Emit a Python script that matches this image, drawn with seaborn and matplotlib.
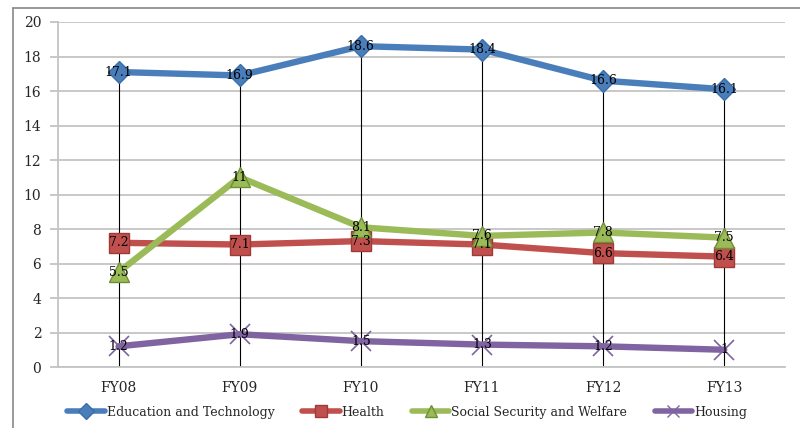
import matplotlib
matplotlib.use("Agg")
import matplotlib.pyplot as plt
from matplotlib.lines import Line2D
import seaborn as sns
import pandas as pd

years = ["FY08", "FY09", "FY10", "FY11", "FY12", "FY13"]
education = [17.1, 16.9, 18.6, 18.4, 16.6, 16.1]
health = [7.2, 7.1, 7.3, 7.1, 6.6, 6.4]
welfare = [5.5, 11, 8.1, 7.6, 7.8, 7.5]
housing = [1.2, 1.9, 1.5, 1.3, 1.2, 1.0]
y_ticks = [0, 2, 4, 6, 8, 10, 12, 14, 16, 18, 20]

series = [
    ("Education and Technology", education, "#4A7EBB", "D", 11, "#3A6EAB"),
    ("Health", health, "#C0504D", "s", 14, "#A03A38"),
    ("Social Security and Welfare", welfare, "#9BBB59", "^", 15, "#6F8F35"),
    ("Housing", housing, "#8064A2", "x", 15, "#8064A2"),
]

SERIF = ["DejaVu Serif", "Liberation Serif"]

sns.set_theme(style="white")
plt.rcParams["font.family"] = SERIF

fig = plt.figure(figsize=(8.0, 4.28), dpi=100)
ax = fig.add_axes([0.0725, 0.1425, 0.9085, 0.8061])

# drop lines from the highest series down to the axis
tops = [max(vals) for vals in zip(education, health, welfare, housing)]
ax.vlines(range(len(years)), 0, tops, color="black", lw=0.8, zorder=2)

handles = []
for name, vals, color, marker, ms, edge in series:
    df = pd.DataFrame({"year": years, "value": vals})
    is_x = marker == "x"
    sns.lineplot(data=df, x="year", y="value", ax=ax, color=color, lw=4.6,
                 marker=marker, markersize=ms,
                 markeredgecolor=color if is_x else edge,
                 markeredgewidth=1.2 if is_x else 1.0,
                 zorder=3, legend=False)
    for i, v in enumerate(vals):
        ax.text(i, v, f"{v:g}", ha="center", va="center", fontsize=9,
                color="black", zorder=5)
    handles.append(Line2D([], [], color=color, lw=4.0, marker=marker,
                          markersize=8, markeredgecolor=color if is_x else edge,
                          markeredgewidth=1.0))

ax.set_xlim(-0.5, len(years) - 0.5)
ax.set_ylim(0, 20)
ax.set_yticks(y_ticks)
ax.set_xlabel("")
ax.set_ylabel("")
ax.grid(axis="y", color="#C4C4C4", lw=1.3)
ax.set_axisbelow(True)
for side in ["top", "right"]:
    ax.spines[side].set_visible(False)
for side in ["left", "bottom"]:
    ax.spines[side].set_color("#C4C4C4")
    ax.spines[side].set_linewidth(1.3)
ax.tick_params(axis="y", which="major", length=6, color="#C4C4C4", width=1.3,
               labelsize=10, pad=6, left=True)
ax.tick_params(axis="x", length=0, labelsize=10, pad=10)
for t in ax.get_xticklabels() + ax.get_yticklabels():
    t.set_family(SERIF)

fig.legend(handles, [s[0] for s in series], loc="center", ncol=4,
           bbox_to_anchor=(0.509, 0.037), frameon=False, fontsize=9,
           handlelength=3.0, columnspacing=2.2, handletextpad=0.15)

# outer frame of the chart area
fig.add_artist(Line2D([0.016, 0.016], [0.0, 0.981], transform=fig.transFigure,
                      color="#888888", lw=1.2))
fig.add_artist(Line2D([0.016, 1.0], [0.981, 0.981], transform=fig.transFigure,
                      color="#888888", lw=1.2))

fig.savefig("out.png", dpi=100)
